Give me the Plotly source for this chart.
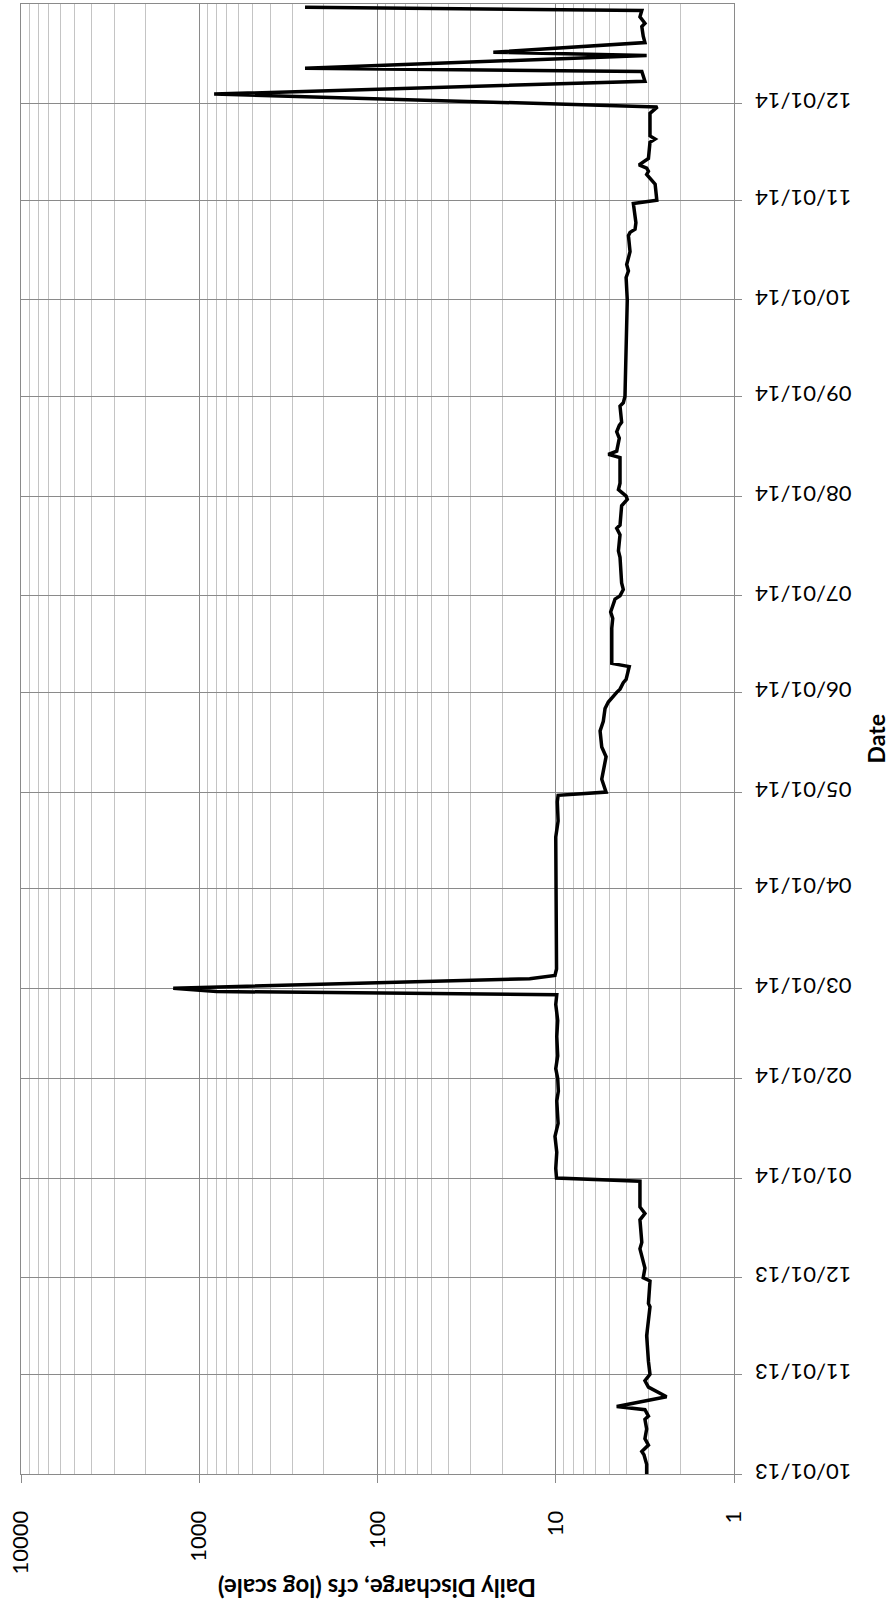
import plotly.graph_objects as go

# ---- data ----
dates = [
    "2013-10-01", "2013-10-04", "2013-10-07", "2013-10-08", "2013-10-10", "2013-10-12",
    "2013-10-15", "2013-10-18", "2013-10-19", "2013-10-21", "2013-10-22", "2013-10-25",
    "2013-10-28", "2013-10-30", "2013-11-01", "2013-11-05", "2013-11-13", "2013-11-22",
    "2013-11-23", "2013-11-30", "2013-12-01", "2013-12-04", "2013-12-10", "2013-12-12",
    "2013-12-19", "2013-12-21", "2013-12-23", "2013-12-31", "2014-01-01", "2014-01-04",
    "2014-01-09", "2014-01-14", "2014-01-18", "2014-01-25", "2014-01-28", "2014-02-01",
    "2014-02-04", "2014-02-08", "2014-02-14", "2014-02-19", "2014-02-24", "2014-02-27",
    "2014-02-28", "2014-03-01", "2014-03-04", "2014-03-05", "2014-03-07", "2014-04-01",
    "2014-04-17", "2014-04-22", "2014-04-28", "2014-04-30", "2014-05-01", "2014-05-05",
    "2014-05-12", "2014-05-15", "2014-05-20", "2014-05-23", "2014-05-27", "2014-05-29",
    "2014-05-31", "2014-06-01", "2014-06-02", "2014-06-04", "2014-06-05", "2014-06-09",
    "2014-06-10", "2014-06-21", "2014-06-24", "2014-06-26", "2014-06-27", "2014-06-30",
    "2014-07-01", "2014-07-03", "2014-07-05", "2014-07-13", "2014-07-15", "2014-07-20",
    "2014-07-22", "2014-07-23", "2014-07-29", "2014-07-31", "2014-08-01", "2014-08-03",
    "2014-08-05", "2014-08-12", "2014-08-13", "2014-08-14", "2014-08-15", "2014-08-19",
    "2014-08-21", "2014-08-23", "2014-08-24", "2014-08-29", "2014-08-30", "2014-09-01",
    "2014-09-30", "2014-10-01", "2014-10-08", "2014-10-10", "2014-10-12", "2014-10-16",
    "2014-10-21", "2014-10-22", "2014-10-23", "2014-10-25", "2014-10-31", "2014-11-01",
    "2014-11-06", "2014-11-07", "2014-11-09", "2014-11-10", "2014-11-11", "2014-11-12",
    "2014-11-13", "2014-11-14", "2014-11-19", "2014-11-20", "2014-11-21", "2014-11-28",
    "2014-11-30", "2014-12-04", "2014-12-08", "2014-12-09", "2014-12-11", "2014-12-12",
    "2014-12-16", "2014-12-17", "2014-12-20", "2014-12-22", "2014-12-25", "2014-12-26",
    "2014-12-28", "2014-12-30", "2014-12-31",
]
discharge_cfs = [
    3.09, 3.09, 3.20, 3.29, 3.02, 3.16,
    3.09, 3.16, 3.02, 3.16, 4.55, 2.39,
    3.02, 3.16, 2.96, 3.02, 3.09, 2.96,
    3.02, 2.96, 3.23, 3.16, 3.37, 3.29,
    3.37, 3.16, 3.37, 3.37, 9.9, 10.0,
    9.87, 10.1, 9.7, 9.87, 9.67, 9.75,
    10.0, 9.75, 9.87, 9.75, 10.0, 9.87,
    800, 1400, 14, 10.1, 9.9, 10.0,
    10.0, 9.7, 9.8, 9.7, 5.22, 5.52,
    5.22, 5.52, 5.64, 5.41, 5.29, 5.07,
    4.75, 4.55, 4.36, 4.18, 4.03, 3.87,
    4.85, 4.85, 4.79, 4.92, 4.85, 4.65,
    4.36, 4.18, 4.27, 4.36, 4.45, 4.36,
    4.55, 4.36, 4.27, 3.97, 4.03, 4.45,
    4.36, 4.32, 4.36, 5.07, 4.55, 4.40,
    4.55, 4.40, 4.27, 4.36, 4.18, 4.09,
    4.00, 3.97, 4.03, 3.91, 4.00, 3.83,
    3.91, 3.83, 3.59, 3.55, 3.67, 2.71,
    2.77, 2.86, 3.09, 3.02, 3.09, 3.41,
    3.23, 3.02, 2.96, 2.77, 2.96, 2.96,
    2.69, 825, 3.16, 3.20, 3.29, 255,
    3.09, 22.4, 3.16, 3.23, 3.29, 3.16,
    3.37, 3.29, 255,
]

date_ticks = [
    "2013-10-01", "2013-11-01", "2013-12-01", "2014-01-01", "2014-02-01",
    "2014-03-01", "2014-04-01", "2014-05-01", "2014-06-01", "2014-07-01",
    "2014-08-01", "2014-09-01", "2014-10-01", "2014-11-01", "2014-12-01",
]
date_tick_labels = [
    "10/01/13", "11/01/13", "12/01/13", "01/01/14", "02/01/14",
    "03/01/14", "04/01/14", "05/01/14", "06/01/14", "07/01/14",
    "08/01/14", "09/01/14", "10/01/14", "11/01/14", "12/01/14",
]
q_ticks = [1, 10, 100, 1000, 10000]
q_tick_labels = ["1", "10", "100", "1000", "10000"]

x_title = "Daily Discharge, cfs (log scale)"
y_title = "Date"

minor_vals = [m * 10 ** k for k in range(0, 4) for m in range(2, 10)]

FONT = "Lato"
GRID = "#8a8a8a"
MINOR = "#c4c4c4"

fig = go.Figure()
fig.add_trace(go.Scatter(
    x=discharge_cfs, y=dates, mode="lines",
    line=dict(color="black", width=3.5),
    hoverinfo="skip",
))

fig.update_layout(
    width=890, height=1608,
    margin=dict(l=21, r=156, t=4, b=134, autoexpand=False),
    plot_bgcolor="white", paper_bgcolor="white",
    showlegend=False,
    font=dict(family=FONT, size=22, color="black"),
)

fig.update_xaxes(
    type="log", range=[4, 0], autorange=False,
    tickmode="array", tickvals=q_ticks, ticktext=q_tick_labels,
    tickangle=-90, ticks="outside", ticklen=8, tickcolor=GRID,
    ticklabelstandoff=19,
    showgrid=True, gridcolor=GRID, gridwidth=1,
    minor=dict(tickmode="array", tickvals=minor_vals, showgrid=True,
               gridcolor=MINOR, gridwidth=1, ticks=""),
    showline=True, linecolor=GRID, linewidth=1, mirror=True,
    zeroline=False, automargin=False,
    tickfont=dict(family=FONT, size=22, color="black"),
)

fig.update_yaxes(
    type="date", range=["2013-10-01", "2015-01-01"], autorange=False,
    side="right",
    tickmode="array", tickvals=date_ticks, ticktext=date_tick_labels,
    tickangle=180, ticks="outside", ticklen=7, tickcolor=GRID,
    ticklabelstandoff=105, ticklabelshift=4,
    showgrid=True, gridcolor=GRID, gridwidth=1,
    showline=True, linecolor=GRID, linewidth=1, mirror=True,
    zeroline=False, automargin=False,
    tickfont=dict(family=FONT, size=22, color="black"),
)

fig.add_annotation(
    text="<b>" + x_title + "</b>", textangle=180,
    xref="paper", yref="paper", x=0.5, y=-0.078,
    xanchor="center", yanchor="middle", showarrow=False,
    font=dict(family=FONT, size=24, color="black"),
)
fig.add_annotation(
    text="<b>" + y_title + "</b>", textangle=-90,
    xref="paper", yref="paper", x=(875.5 - 21) / 713, y=0.5,
    xanchor="center", yanchor="middle", showarrow=False,
    font=dict(family=FONT, size=23, color="black"),
)

fig.write_html("out.html", config={"displayModeBar": False},
               post_script="document.body.style.margin='0px';")
